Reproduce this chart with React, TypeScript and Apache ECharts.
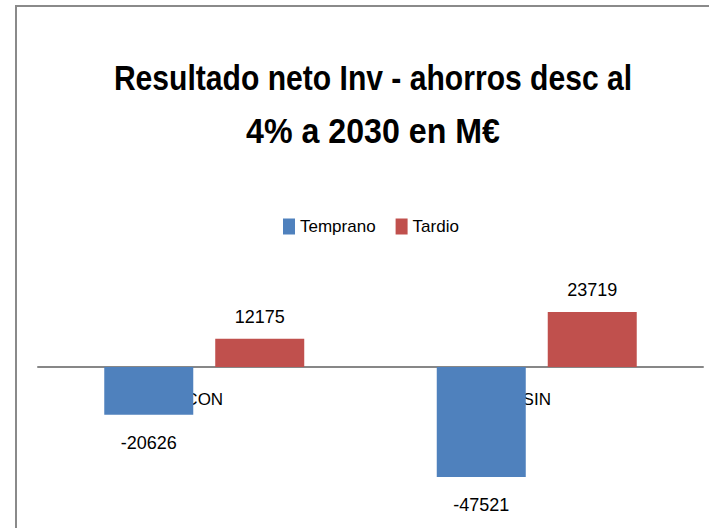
import React, { useEffect, useRef } from "react";
import * as echarts from "echarts";

const categories = ["CON", "SIN"];
const temprano = [-20626, -47521];
const tardio = [12175, 23719];
const titleLines = ["Resultado neto Inv - ahorros desc al", "4% a 2030 en M€"];

const FONT = "'Liberation Sans', Arial, sans-serif";

const withPos = (vals: number[]) =>
  vals.map((v) => ({
    value: v,
    label: { position: v >= 0 ? "top" : "bottom", distance: v >= 0 ? 13 : 19 },
  }));

const GRID_TOP = 274.4;
const GRID_BOTTOM = 22.1;
const HEIGHT = 528;
const Y_MIN = -60000;
const Y_MAX = 40000;
// pixel offset that moves the category axis (line + labels) from grid bottom up to value 0
const zeroY = GRID_TOP + ((HEIGHT - GRID_TOP - GRID_BOTTOM) * Y_MAX) / (Y_MAX - Y_MIN);
const axisOffset = zeroY - (HEIGHT - GRID_BOTTOM);

export default function App() {
  const ref = useRef<HTMLDivElement>(null);
  useEffect(() => {
    if (!ref.current) return;
    const chart = echarts.init(ref.current, null, { renderer: "svg" });
    chart.setOption({
      animation: false,
      backgroundColor: "#ffffff",
      legend: {
        data: ["Temprano", "Tardio"],
        top: 218,
        left: 283,
        itemWidth: 12,
        itemHeight: 16,
        itemGap: 20,
        icon: "rect",
        textStyle: { fontFamily: FONT, fontSize: 17, color: "#000000" },
        padding: 0,
      },
      graphic: [
        {
          type: "rect",
          shape: { x: 16, y: 6, width: 760, height: 600 },
          style: { fill: "none", stroke: "#8a8a8a", lineWidth: 2 },
          silent: true,
        },
        {
          type: "text",
          x: 373,
          y: 78,
          scaleX: 0.86,
          style: {
            text: titleLines[0],
            fontFamily: FONT,
            fontWeight: "bold",
            fontSize: 35,
            fill: "#000000",
            textAlign: "center",
            textVerticalAlign: "middle",
          },
          silent: true,
        },
        {
          type: "text",
          x: 373,
          y: 131,
          scaleX: 0.92,
          style: {
            text: titleLines[1],
            fontFamily: FONT,
            fontWeight: "bold",
            fontSize: 35,
            fill: "#000000",
            textAlign: "center",
            textVerticalAlign: "middle",
          },
          silent: true,
        },
      ],
      grid: {
        left: 38,
        right: 6,
        top: GRID_TOP,
        bottom: GRID_BOTTOM,
        containLabel: false,
        outerBoundsMode: "none",
      },
      xAxis: {
        type: "category",
        data: categories,
        offset: axisOffset,
        axisLine: { onZero: false, lineStyle: { color: "#878787", width: 2 } },
        axisTick: { show: false },
        axisLabel: { fontFamily: FONT, fontSize: 17, color: "#000000", margin: 24 },
      },
      yAxis: {
        type: "value",
        min: Y_MIN,
        max: Y_MAX,
        show: false,
        splitLine: { show: false },
      },
      series: [
        {
          name: "Temprano",
          type: "bar",
          data: withPos(temprano),
          barWidth: 89,
          barGap: "24.7%",
          itemStyle: { color: "#4F81BD" },
          label: { show: true, fontFamily: FONT, fontSize: 18, color: "#000000" },
        },
        {
          name: "Tardio",
          type: "bar",
          data: withPos(tardio),
          barWidth: 89,
          barGap: "24.7%",
          itemStyle: { color: "#C0504D" },
          label: { show: true, fontFamily: FONT, fontSize: 18, color: "#000000" },
        },
      ],
    });
    return () => chart.dispose();
  }, []);
  return (
    <div
      ref={ref}
      style={{ position: "fixed", left: 0, top: 0, width: 709, height: 528 }}
    />
  );
}
